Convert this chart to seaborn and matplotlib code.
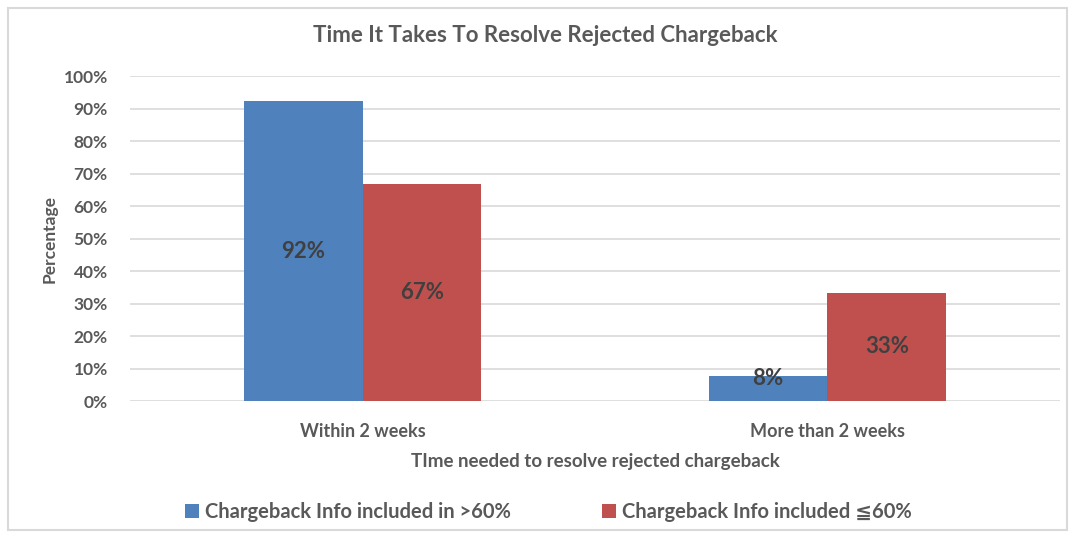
import matplotlib
matplotlib.use("Agg")
import matplotlib.pyplot as plt
import pandas as pd
import seaborn as sns
from matplotlib.patches import Rectangle
from matplotlib.ticker import PercentFormatter

# Data
categories = ["Within 2 weeks", "More than 2 weeks"]
series = ["Chargeback Info included in >60%", "Chargeback Info included \u226660%"]
above_60 = [92.3, 7.7]
below_60 = [66.7, 33.3]
labels_above = ["92%", "8%"]
labels_below = ["67%", "33%"]

df = pd.DataFrame({
    "category": categories * 2,
    "series": [series[0]] * 2 + [series[1]] * 2,
    "value": above_60 + below_60,
    "label": labels_above + labels_below,
})

sns.set_style("white")
plt.rcParams["font.family"] = ["Lato", "DejaVu Sans"]
TXT = "#595959"

fig = plt.figure(figsize=(10.75, 5.38), dpi=100)
ax = fig.add_axes([0.121, 0.2546, 0.865, 0.604])

sns.barplot(data=df, x="category", y="value", hue="series",
            palette=["#4f81bd", "#c0504d"], width=0.51, ax=ax,
            saturation=1, linewidth=0, legend=True)

ax.set_ylim(0, 100)
ax.set_yticks(range(0, 101, 10))
ax.yaxis.set_major_formatter(PercentFormatter(decimals=0))
ax.grid(axis="y", color="#d9d9d9", linewidth=1.2)
ax.set_axisbelow(True)
for s in ax.spines.values():
    s.set_visible(False)
ax.tick_params(length=0)
ax.tick_params(axis="y", labelsize=12.5, labelcolor=TXT, pad=16)
ax.tick_params(axis="x", labelsize=13, labelcolor=TXT, pad=16)
for t in ax.get_yticklabels() + ax.get_xticklabels():
    t.set_fontweight("bold")

# Data labels
for cont, ser in zip(ax.containers, series):
    sub = df[df["series"] == ser]
    for bar, (_, row) in zip(cont, sub.iterrows()):
        y = max(row["value"] / 2, 7)
        ax.text(bar.get_x() + bar.get_width() / 2, y, row["label"],
                ha="center", va="center", fontsize=16, fontweight="bold",
                color="#404040")

ax.set_xlabel("TIme needed to resolve rejected chargeback", fontsize=13.5,
              color=TXT, fontweight="bold", labelpad=9)
ax.set_ylabel("Percentage", fontsize=12.5, color=TXT, fontweight="bold",
              labelpad=4)
fig.text(0.507, 1 - 36 / 538, "Time It Takes To Resolve Rejected Chargeback",
         ha="center", va="center", fontsize=16, fontweight="bold", color=TXT)

ax.legend(loc="center", bbox_to_anchor=(0.45, -0.342), ncol=2, frameon=False,
          fontsize=14.5, handlelength=0.7, handleheight=0.7, handletextpad=0.3,
          columnspacing=4.5, labelcolor=TXT)
for t in ax.get_legend().get_texts():
    t.set_fontweight("bold")

fig.patches.append(Rectangle((0.007, 0.015), 0.986, 0.97, transform=fig.transFigure,
                             fill=False, edgecolor="#d9d9d9", linewidth=1.5))

fig.savefig("out.png", dpi=100, facecolor="white")
